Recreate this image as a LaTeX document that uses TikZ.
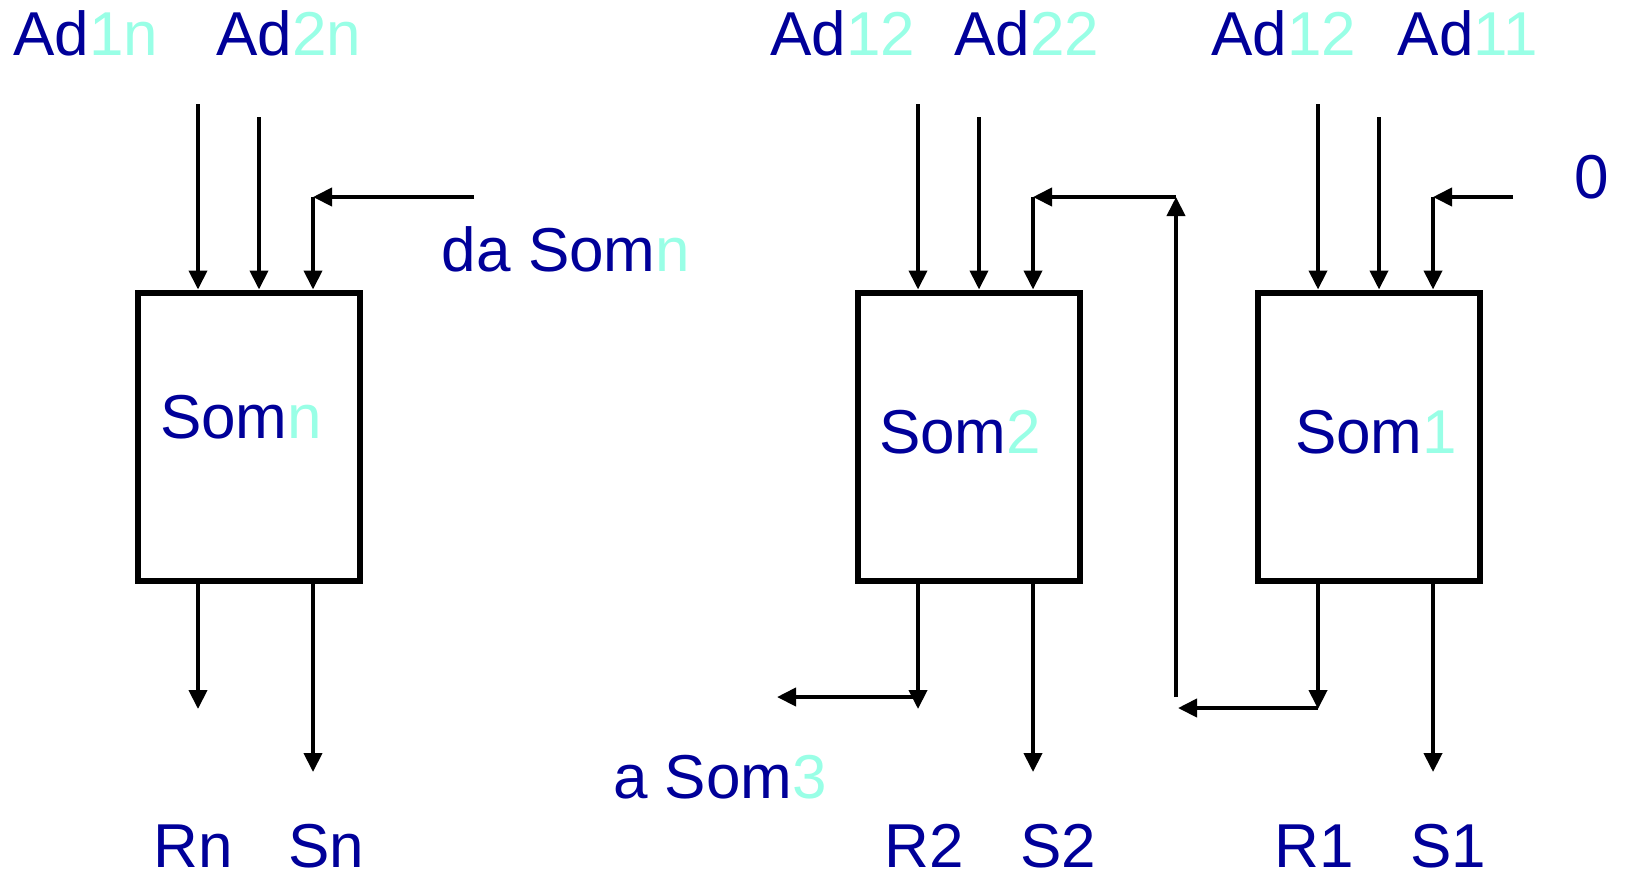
\documentclass[tikz,border=0pt]{standalone}
\usepackage{fontspec}
\setmainfont{Liberation Sans}
\usetikzlibrary{arrows.meta}
\definecolor{navy}{RGB}{0,0,153}
\definecolor{aqua}{RGB}{153,255,230}
\tikzset{>={Triangle[length=9.5pt,width=9pt]}}

\begin{document}
\begin{tikzpicture}[x=0.5pt, y=-0.5pt,
  som/.style={draw, line width=3pt, minimum width=111pt, minimum height=144pt, inner sep=0pt},
  lab/.style={text=navy, font=\fontsize{31}{31}\selectfont, inner sep=0pt},
  wire/.style={line width=2pt}]
\useasboundingbox (0,0) rectangle (1625,874);
% adders
\node[som] (sn) at (248.5,436.5) {};
\node[som] (s2) at (968.5,436.5) {};
\node[som] (s1) at (1368.5,436.5) {};
\node[lab] (tn) at (241,417) {Som\textcolor{aqua}{n}};
\node[lab] (t2) at (960,432) {Som\textcolor{aqua}{2}};
\node[lab] (t1) at (1376,432) {Som\textcolor{aqua}{1}};
% input labels
\node[lab] (ad1n) at (86,33) {Ad\textcolor{aqua}{1n}};
\node[lab] (ad2n) at (289,33) {Ad\textcolor{aqua}{2n}};
\node[lab] (ad12b) at (843,33) {Ad\textcolor{aqua}{12}};
\node[lab] (ad22) at (1027,33) {Ad\textcolor{aqua}{22}};
\node[lab] (ad12a) at (1284,33) {Ad\textcolor{aqua}{12}};
\node[lab] (ad11) at (1468,33) {Ad\textcolor{aqua}{11}};
\node[lab] (zero) at (1592,177) {0};
\node[lab] (dasom) at (566,249) {da Som\textcolor{aqua}{n}};
\node[lab] (asom) at (720,777) {a Som\textcolor{aqua}{3}};
% output labels
\node[lab] (rn) at (193,846) {Rn};
\node[lab] (sno) at (326,846) {Sn};
\node[lab] (r2) at (924,846) {R2};
\node[lab] (s2o) at (1058,846) {S2};
\node[lab] (r1) at (1314,846) {R1};
\node[lab] (s1o) at (1448,846) {S1};
% wire ends
\coordinate (an1) at (198,104); \coordinate (an2) at (259,117);
\coordinate (kn) at (313,197); \coordinate (dn) at (474,197);
\coordinate (a21) at (918,104); \coordinate (a22) at (979,117);
\coordinate (k2) at (1033,197); \coordinate (fbt) at (1176,197);
\coordinate (fbb) at (1176,697);
\coordinate (a11) at (1318,104); \coordinate (a12) at (1379,117);
\coordinate (k1) at (1433,197); \coordinate (z1) at (1513,197);
\coordinate (rne) at (198,709); \coordinate (sne) at (313,772);
\coordinate (r2e) at (918,709); \coordinate (r2l) at (777,697);
\coordinate (s2e) at (1033,772);
\coordinate (r1e) at (1318,709); \coordinate (r1l) at (1178,708);
\coordinate (s1e) at (1433,772);
% inputs
\draw[wire,->] (an1) -- (an1 |- sn.north);
\draw[wire,->] (an2) -- (an2 |- sn.north);
\draw[wire,->] (dn) -- (kn);
\draw[wire,->] (kn) -- (kn |- sn.north);
\draw[wire,->] (a21) -- (a21 |- s2.north);
\draw[wire,->] (a22) -- (a22 |- s2.north);
\draw[wire,->] (fbt) -- (k2);
\draw[wire,->] (k2) -- (k2 |- s2.north);
\draw[wire,->] (a11) -- (a11 |- s1.north);
\draw[wire,->] (a12) -- (a12 |- s1.north);
\draw[wire,->] (z1) -- (k1);
\draw[wire,->] (k1) -- (k1 |- s1.north);
% outputs
\draw[wire,->] (rne |- sn.south) -- (rne);
\draw[wire,->] (sne |- sn.south) -- (sne);
\draw[wire,->] (r2e |- s2.south) -- (r2e);
\draw[wire,->] (r2e |- r2l) -- (r2l);
\draw[wire,->] (s2e |- s2.south) -- (s2e);
\draw[wire,->] (r1e |- s1.south) -- (r1e);
\draw[wire,->] (r1e |- r1l) -- (r1l);
\draw[wire,->] (s1e |- s1.south) -- (s1e);
\draw[wire,->] (fbb) -- (fbt);
\end{tikzpicture}
\end{document}
